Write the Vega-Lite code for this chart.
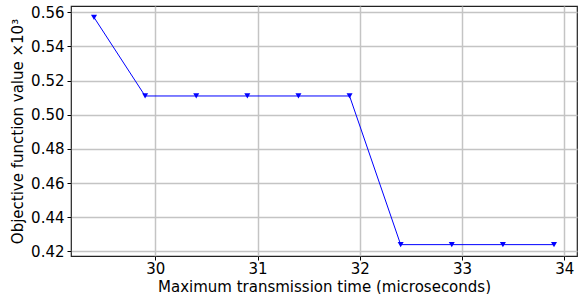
{
  "$schema": "https://vega.github.io/schema/vega-lite/v6.json",
  "width": 506,
  "height": 250,
  "autosize": {"type": "none"},
  "padding": {"left": 71, "top": 6, "right": 8, "bottom": 38},
  "background": "white",
  "config": {
    "view": {"stroke": "#222222", "strokeWidth": 1.2},
    "font": "DejaVu Sans",
    "axis": {
      "labelFont": "DejaVu Sans",
      "titleFont": "DejaVu Sans",
      "labelFontSize": 15,
      "titleFontSize": 15,
      "titleFontWeight": "normal",
      "labelColor": "#000000",
      "titleColor": "#000000",
      "gridColor": "#c4c4c4",
      "gridWidth": 1.5,
      "tickColor": "#000000",
      "tickSize": 4,
      "domain": false
    }
  },
  "data": {
    "values": [
      {"t": 29.4, "v": 0.557},
      {"t": 29.9, "v": 0.511},
      {"t": 30.4, "v": 0.511},
      {"t": 30.9, "v": 0.511},
      {"t": 31.4, "v": 0.511},
      {"t": 31.9, "v": 0.511},
      {"t": 32.4, "v": 0.424},
      {"t": 32.9, "v": 0.424},
      {"t": 33.4, "v": 0.424},
      {"t": 33.9, "v": 0.424}
    ]
  },
  "encoding": {
    "x": {
      "field": "t",
      "type": "quantitative",
      "scale": {"domain": [29.175, 34.125], "nice": false, "zero": false},
      "axis": {"values": [30, 31, 32, 33, 34], "title": "Maximum transmission time (microseconds)", "titlePadding": 3, "labelPadding": 1}
    },
    "y": {
      "field": "v",
      "type": "quantitative",
      "scale": {"domain": [0.41735, 0.56365], "nice": false, "zero": false},
      "axis": {"values": [0.42, 0.44, 0.46, 0.48, 0.5, 0.52, 0.54, 0.56], "format": ".2f", "title": "Objective function value ×10³", "titlePadding": 5, "labelPadding": 3}
    }
  },
  "layer": [
    {"mark": {"type": "line", "color": "#0000ff", "strokeWidth": 1}},
    {"mark": {"type": "point", "shape": "triangle-down", "filled": true, "color": "#0000ff", "size": 36, "opacity": 1}}
  ]
}
